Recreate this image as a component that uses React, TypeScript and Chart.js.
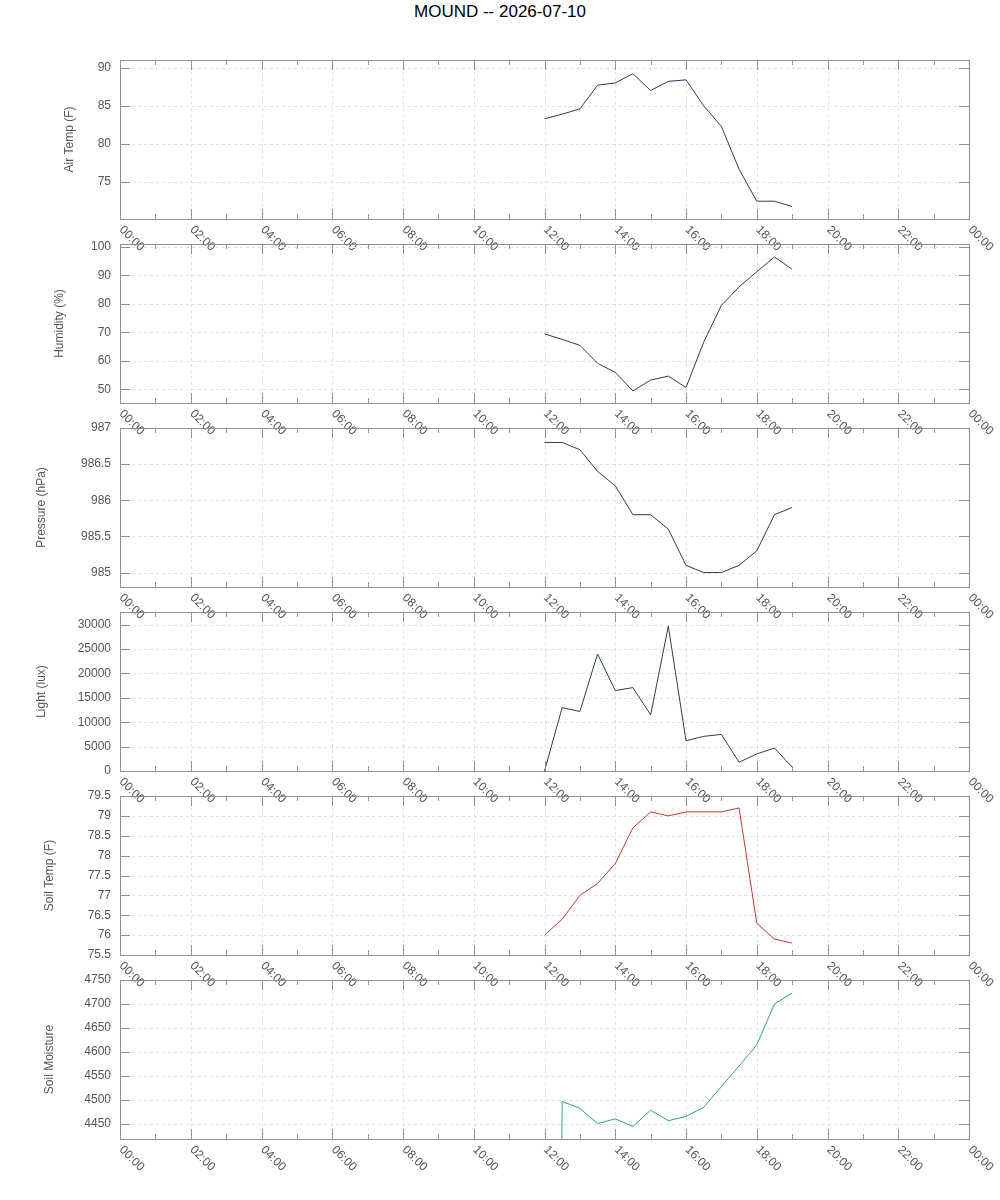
import React, { useEffect, useRef } from "react";
import { Chart, registerables } from "chart.js";

Chart.register(...registerables);

// ---------- data ----------
const chartTitle = "MOUND -- 2026-07-10";

const sampleTimes = [
  "12:00", "12:30", "13:00", "13:30", "14:00", "14:30", "15:00", "15:30",
  "16:00", "16:30", "17:00", "17:30", "18:00", "18:30", "19:00",
];

const airTemp = [83.3, 83.9, 84.6, 87.7, 88.0, 89.2, 87.0, 88.2, 88.4, 85.0, 82.3, 76.7, 72.5, 72.5, 71.8];
const humidity = [69.4, 67.5, 65.4, 59.1, 55.9, 49.4, 53.2, 54.6, 50.6, 66.5, 79.4, 85.9, 91.2, 96.4, 92.1];
const pressure = [986.8, 986.8, 986.7, 986.4, 986.2, 985.8, 985.8, 985.6, 985.1, 985.0, 985.0, 985.1, 985.3, 985.8, 985.9];
const light = [0, 13000, 12200, 24000, 16500, 17100, 11500, 29700, 6200, 7100, 7500, 1800, 3500, 4700, 800];
const soilTemp = [76.0, 76.4, 77.0, 77.3, 77.8, 78.7, 79.1, 79.0, 79.1, 79.1, 79.1, 79.2, 76.3, 75.9, 75.8];
const soilMoisture = [0, 4497, 4483, 4451, 4461, 4445, 4479, 4457, 4466, 4485, 4528, 4571, 4615, 4700, 4723];

const xTickHours = [0, 2, 4, 6, 8, 10, 12, 14, 16, 18, 20, 22, 24];
const xTickLabels = [
  "00:00", "02:00", "04:00", "06:00", "08:00", "10:00", "12:00",
  "14:00", "16:00", "18:00", "20:00", "22:00", "00:00",
];
const xMinorHours = [1, 3, 5, 7, 9, 11, 13, 15, 17, 19, 21, 23];

const airTempTicks = [75, 80, 85, 90];
const humidityTicks = [50, 60, 70, 80, 90, 100];
const pressureTicks = [985, 985.5, 986, 986.5, 987];
const lightTicks = [0, 5000, 10000, 15000, 20000, 25000, 30000];
const soilTempTicks = [75.5, 76, 76.5, 77, 77.5, 78, 78.5, 79, 79.5];
const soilMoistureTicks = [4450, 4500, 4550, 4600, 4650, 4700, 4750];

// ---------- styles / layout ----------
const FONT = "'Liberation Sans', Arial, Helvetica, sans-serif";
const NAVY = "#2c3e50";
const RED = "#c0392b";
const GREEN = "#27ae60";
const BORDER = "#909090";
const GRID = "#e0e0e0";
const TEXT = "#555555";

const PANEL_TOP0 = 60;
const PANEL_STEP = 184;
const PANEL_H = 159;
const PAD_T = 20;
const PAD_B = 60;
const CANVAS_W = 1000;
const CANVAS_H = PAD_T + PANEL_H + PAD_B;
const AREA_LEFT = 120;
const AREA_RIGHT = 969;

const toHours = (t: string) => {
  const [h, m] = t.split(":").map(Number);
  return h + m / 60;
};

const panels = [
  { label: "Air Temp (F)", values: airTemp, ticks: airTempTicks, min: 70.17, max: 91.0, color: NAVY, titleX: 70 },
  { label: "Humidity (%)", values: humidity, ticks: humidityTicks, min: 45.16, max: 100.95, color: NAVY, titleX: 60 },
  { label: "Pressure (hPa)", values: pressure, ticks: pressureTicks, min: 984.8, max: 987.0, color: NAVY, titleX: 42 },
  { label: "Light (lux)", values: light, ticks: lightTicks, min: 0, max: 32600, color: NAVY, titleX: 42 },
  { label: "Soil Temp (F)", values: soilTemp, ticks: soilTempTicks, min: 75.5, max: 79.5, color: RED, titleX: 50 },
  { label: "Soil Moisture", values: soilMoisture, ticks: soilMoistureTicks, min: 4419, max: 4750, color: GREEN, titleX: 50 },
];

const framePlugin = {
  id: "gnuFrame",
  beforeDatasetsDraw(chart: any) {
    const { ctx, chartArea: a, scales } = chart;
    const xs = scales.x;
    const ys = scales.y;
    ctx.save();
    ctx.strokeStyle = GRID;
    ctx.lineWidth = 1;
    ctx.setLineDash([3, 3]);
    ctx.beginPath();
    for (const h of xTickHours) {
      if (h <= 0 || h >= 24) continue;
      const px = Math.round(xs.getPixelForValue(h)) + 0.5;
      ctx.moveTo(px, a.top);
      ctx.lineTo(px, a.bottom);
    }
    for (const t of ys.ticks) {
      const py = Math.round(ys.getPixelForValue(t.value)) + 0.5;
      if (py <= a.top + 1 || py >= a.bottom - 1) continue;
      ctx.moveTo(a.left, py);
      ctx.lineTo(a.right, py);
    }
    ctx.stroke();
    ctx.restore();
  },
  afterDatasetsDraw(chart: any) {
    const { ctx, chartArea: a, scales } = chart;
    const xs = scales.x;
    const ys = scales.y;
    ctx.save();
    ctx.strokeStyle = BORDER;
    ctx.lineWidth = 1;
    ctx.setLineDash([]);
    ctx.beginPath();
    for (const h of xTickHours) {
      const px = Math.round(xs.getPixelForValue(h)) + 0.5;
      ctx.moveTo(px, a.bottom);
      ctx.lineTo(px, a.bottom - 10);
      ctx.moveTo(px, a.top);
      ctx.lineTo(px, a.top + 10);
    }
    for (const h of xMinorHours) {
      const px = Math.round(xs.getPixelForValue(h)) + 0.5;
      ctx.moveTo(px, a.bottom);
      ctx.lineTo(px, a.bottom - 5);
      ctx.moveTo(px, a.top);
      ctx.lineTo(px, a.top + 5);
    }
    for (const t of ys.ticks) {
      const py = Math.round(ys.getPixelForValue(t.value)) + 0.5;
      ctx.moveTo(a.left, py);
      ctx.lineTo(a.left + 10, py);
      ctx.moveTo(a.right, py);
      ctx.lineTo(a.right - 10, py);
    }
    ctx.stroke();
    ctx.strokeRect(a.left + 0.5, a.top + 0.5, a.right - a.left, a.bottom - a.top);
    ctx.restore();
  },
  afterDraw(chart: any) {
    const { ctx, chartArea: a, scales } = chart;
    const xs = scales.x;
    ctx.save();
    ctx.fillStyle = TEXT;
    ctx.font = `12px ${FONT}`;
    ctx.textAlign = "left";
    ctx.textBaseline = "middle";
    xTickHours.forEach((h, i) => {
      const px = xs.getPixelForValue(h);
      ctx.save();
      ctx.translate(px + 1, a.bottom + 9);
      ctx.rotate(Math.PI / 4);
      ctx.fillText(xTickLabels[i], 0, 0);
      ctx.restore();
    });
    ctx.restore();
  },
};

function Panel({ cfg, index }: { cfg: (typeof panels)[number]; index: number }) {
  const ref = useRef<HTMLCanvasElement>(null);
  useEffect(() => {
    const canvas = ref.current;
    if (!canvas) return;
    const tickVals = cfg.ticks;
    const chart = new Chart(canvas, {
      type: "line",
      data: {
        datasets: [
          {
            data: sampleTimes.map((t, i) => ({ x: toHours(t), y: cfg.values[i] })),
            borderColor: cfg.color,
            backgroundColor: cfg.color,
            borderWidth: 1,
            pointRadius: 0,
            tension: 0,
            fill: false,
          },
        ],
      },
      options: {
        responsive: false,
        maintainAspectRatio: false,
        animation: false,
        events: [],
        layout: { padding: { top: PAD_T, bottom: PAD_B, left: 0, right: CANVAS_W - AREA_RIGHT } },
        plugins: { legend: { display: false }, title: { display: false }, tooltip: { enabled: false } },
        scales: {
          x: { type: "linear", min: 0, max: 24, display: false },
          y: {
            type: "linear",
            min: cfg.min,
            max: cfg.max,
            afterBuildTicks: (scale: any) => {
              scale.ticks = tickVals.map((v) => ({ value: v }));
            },
            afterFit: (scale: any) => {
              scale.width = AREA_LEFT;
            },
            grid: { display: false, drawTicks: false, tickLength: 0 },
            border: { display: false },
            ticks: {
              autoSkip: false,
              padding: 9,
              color: TEXT,
              font: { family: FONT, size: 12 },
              callback: (v: any) => String(v),
            },
            title: {
              display: true,
              text: cfg.label,
              color: TEXT,
              font: { family: FONT, size: 12 },
              padding: { top: cfg.titleX - 7.2, bottom: 0 },
            },
          },
        },
      },
      plugins: [framePlugin],
    } as any);
    return () => chart.destroy();
  }, [cfg]);
  return (
    <canvas
      ref={ref}
      width={CANVAS_W}
      height={CANVAS_H}
      style={{
        position: "absolute",
        left: 0,
        top: PANEL_TOP0 + index * PANEL_STEP - PAD_T,
        width: CANVAS_W,
        height: CANVAS_H,
      }}
    />
  );
}

export default function App() {
  return (
    <div
      style={{
        position: "absolute",
        left: 0,
        top: 0,
        width: 1000,
        height: 1200,
        background: "#ffffff",
        overflow: "hidden",
      }}
    >
      <div
        style={{
          position: "absolute",
          left: 0,
          top: 0,
          width: 1000,
          height: 24,
          lineHeight: "24px",
          textAlign: "center",
          fontFamily: FONT,
          fontSize: 17,
          color: "#000",
        }}
      >
        {chartTitle}
      </div>
      {panels.map((p, i) => (
        <Panel key={p.label} cfg={p} index={i} />
      ))}
    </div>
  );
}
